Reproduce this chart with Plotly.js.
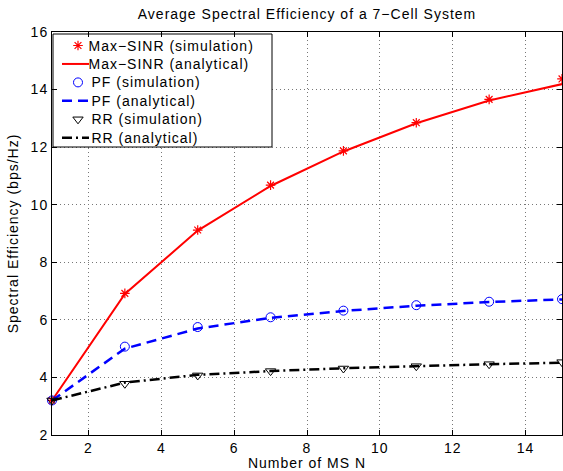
<!DOCTYPE html>
<html>
<head>
<meta charset="utf-8">
<script src="https://cdn.plot.ly/plotly-3.0.1.min.js"></script>
<style>
html,body{margin:0;padding:0;background:#fff;}
#chart{width:563px;height:471px;}
#chart svg text{letter-spacing:1px;}
</style>
</head>
<body>
<div id="chart"></div>
<script>
// Data
const nValues = [1, 3, 5, 7, 9, 11, 13, 15];
const maxSinrSim = [3.2, 6.92, 9.12, 10.68, 11.87, 12.85, 13.66, 14.37];
const maxSinrAna = [3.2, 6.90, 9.10, 10.65, 11.85, 12.83, 13.62, 14.19];
const pfSim = [3.2, 5.07, 5.75, 6.09, 6.32, 6.51, 6.63, 6.72];
const pfAna = [3.2, 5.00, 5.70, 6.07, 6.31, 6.49, 6.62, 6.71];
const rrSim = [3.2, 3.78, 4.07, 4.22, 4.31, 4.39, 4.46, 4.53];
const rrAna = [3.2, 3.82, 4.09, 4.22, 4.32, 4.40, 4.46, 4.51];
const seriesNames = ["Max\u2212SINR (simulation)", "Max\u2212SINR (analytical)", "PF (simulation)", "PF (analytical)", "RR (simulation)", "RR (analytical)"];
const titleText = "Average Spectral Efficiency of a 7\u2212Cell System";
const xTitle = "Number of MS N";
const yTitle = "Spectral Efficiency (bps/Hz)";
const xRange = [1, 15];
const yRange = [2, 16];

const FONT = "Liberation Sans, Arial, Helvetica, sans-serif";
const FS = 14;

// Styles
const styles = [
  {mode: "markers", marker: {symbol: "asterisk-open", size: 8, color: "#ff0000", line: {color: "#ff0000", width: 1.2}}},
  {mode: "lines", line: {color: "#ff0000", width: 2}},
  {mode: "markers", marker: {symbol: "circle-open", size: 9, color: "#0000ff", line: {color: "#0000ff", width: 1}}},
  {mode: "lines", line: {color: "#0000ff", width: 2.5, dash: "10px,6px"}},
  {mode: "markers", marker: {symbol: "triangle-down-open", size: 9, color: "#000000", line: {color: "#000000", width: 1}}},
  {mode: "lines", line: {color: "#000000", width: 2.5, dash: "10px,4px,2px,4px"}}
];
const seriesData = [maxSinrSim, maxSinrAna, pfSim, pfAna, rrSim, rrAna];

const traces = seriesData.map((ys, i) => Object.assign({
  x: nValues, y: ys, name: seriesNames[i], showlegend: false, hoverinfo: "skip",
  cliponaxis: styles[i].mode === "markers" ? false : true
}, styles[i]));

// MATLAB-style legend box; positions given in figure pixels, converted to axis units
const PLOT = {l: 52, r: 562, t: 32, b: 435};
const px2x = px => xRange[0] + (px - PLOT.l) / (PLOT.r - PLOT.l) * (xRange[1] - xRange[0]);
const py2y = py => yRange[0] + (PLOT.b - py) / (PLOT.b - PLOT.t) * (yRange[1] - yRange[0]);
const LG = {boxL: 53, boxR: 272, boxT: 34, boxB: 147, firstY: 45.5, stepY: 18.45,
            lineX0: 62, lineX1: 89, markerX: 78, textX: 98};
traces.push({x: [LG.boxL, LG.boxR, LG.boxR, LG.boxL, LG.boxL].map(px2x),
             y: [LG.boxT, LG.boxT, LG.boxB, LG.boxB, LG.boxT].map(py2y),
             mode: "lines", fill: "toself", fillcolor: "#ffffff",
             line: {color: "#000", width: 1}, showlegend: false, hoverinfo: "skip"});
const annotations = [];
seriesNames.forEach((nm, i) => {
  const yc = py2y(LG.firstY + i * LG.stepY);
  const st = styles[i];
  const xs = st.mode === "markers" ? [px2x(LG.markerX)] : [px2x(LG.lineX0), px2x(LG.lineX1)];
  traces.push(Object.assign({x: xs, y: xs.map(() => yc), showlegend: false, hoverinfo: "skip"}, st));
  annotations.push({text: nm, x: px2x(LG.textX), y: yc, xref: "x", yref: "y", xanchor: "left", yanchor: "middle",
                    showarrow: false, borderpad: 0, font: {family: FONT, size: FS, color: "#000"}});
});

const axisCommon = {
  ticks: "inside", ticklen: 5, tickwidth: 1, tickcolor: "#000",
  showline: true, linecolor: "#000", linewidth: 1, mirror: "ticks",
  showgrid: true, gridcolor: "#777", gridwidth: 1, griddash: "1px,3px",
  zeroline: false, tickfont: {family: FONT, size: FS, color: "#000"}
};

const layout = {
  width: 563, height: 471,
  margin: {l: 52, r: 1, t: 32, b: 36, pad: 0},
  paper_bgcolor: "#fff", plot_bgcolor: "#fff",
  font: {family: FONT, size: FS, color: "#000"},
  showlegend: false,
  title: {text: titleText, font: {family: FONT, size: FS, color: "#000"},
          x: 0.5, xref: "paper", xanchor: "center", y: 1 - 14/471, yref: "container", yanchor: "middle"},
  xaxis: Object.assign({}, axisCommon, {range: xRange, tick0: 0, dtick: 2,
          title: {text: xTitle, font: {family: FONT, size: FS, color: "#000"}, standoff: 3}}),
  yaxis: Object.assign({}, axisCommon, {range: yRange, tick0: 0, dtick: 2,
          title: {text: yTitle, font: {family: FONT, size: FS, color: "#000"}, standoff: 10}}),
  annotations: annotations
};

Plotly.newPlot("chart", traces, layout, {displayModeBar: false, staticPlot: true});
</script>
</body>
</html>
